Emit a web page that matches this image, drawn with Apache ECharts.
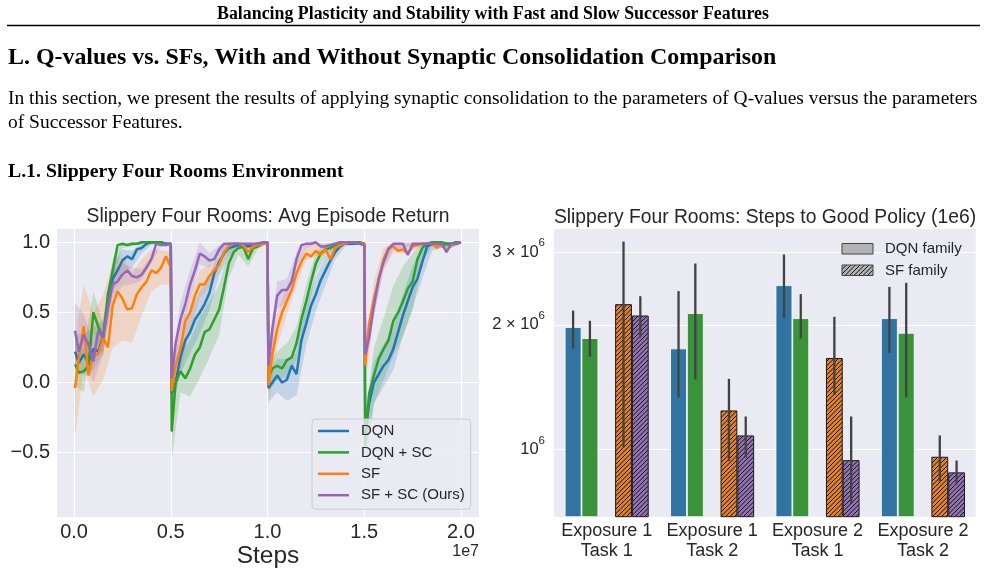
<!DOCTYPE html>
<html>
<head>
<meta charset="utf-8">
<title>Slippery Four Rooms</title>
<script src="https://cdn.jsdelivr.net/npm/echarts@6.0.0/dist/echarts.min.js"></script>
<style>
  html, body { margin: 0; padding: 0; background: #fff; }
  #chart { width: 985px; height: 588px; }
</style>
</head>
<body>
<div id="chart"></div>
<script>
// ---- left panel: avg episode return, x in units of 1e7 steps ----
var steps = [
  0.005, 0.025, 0.05, 0.075, 0.1, 0.125, 0.15, 0.175, 0.2, 0.225, 0.25, 0.275, 0.3, 0.325, 0.35, 0.375, 0.4, 0.425, 0.45, 0.475, 0.5,
  0.505, 0.525, 0.55, 0.575, 0.6, 0.625, 0.65, 0.675, 0.7, 0.725, 0.75, 0.775, 0.8, 0.825, 0.85, 0.875, 0.9, 0.925, 0.95, 0.975, 1.0,
  1.005, 1.025, 1.05, 1.075, 1.1, 1.125, 1.15, 1.175, 1.2, 1.225, 1.25, 1.275, 1.3, 1.325, 1.35, 1.375, 1.4, 1.425, 1.45, 1.475, 1.5,
  1.505, 1.525, 1.55, 1.575, 1.6, 1.625, 1.65, 1.675, 1.7, 1.725, 1.75, 1.775, 1.8, 1.825, 1.85, 1.875, 1.9, 1.925, 1.95, 1.975, 2.0
];
var dqn = [
  0.22, 0.14, 0.2, 0.14, 0.24, 0.22, 0.33, 0.55, 0.74, 0.8, 0.87, 0.9, 0.88, 0.95, 0.96, 0.99, 1.0, 1.0, 1.0, 0.99, 0.99,
  -0.08, 0.0, 0.18, 0.3, 0.36, 0.45, 0.5, 0.56, 0.64, 0.78, 0.86, 0.92, 0.96, 0.97, 0.98, 0.98, 0.97, 0.98, 0.99, 0.99, 1.0,
  -0.04, 0.0, 0.05, 0.0, 0.02, 0.12, 0.06, 0.3, 0.42, 0.55, 0.63, 0.73, 0.8, 0.87, 0.93, 0.97, 0.99, 0.99, 0.99, 0.99, 0.99,
  -0.35, -0.15, 0.0, 0.06, 0.12, 0.16, 0.24, 0.36, 0.48, 0.58, 0.68, 0.74, 0.86, 0.97, 0.99, 0.99, 0.98, 0.99, 0.99, 1.0, 1.0
];
var dqnSC = [
  0.13, 0.07, 0.08, 0.12, 0.5, 0.4, 0.31, 0.63, 0.8, 0.98, 0.99, 0.98, 0.99, 0.99, 1.0, 1.0, 1.0, 1.0, 1.0, 0.98, 0.99,
  -0.35, 0.0, 0.08, 0.03, 0.1, 0.2, 0.25, 0.36, 0.38, 0.45, 0.52, 0.68, 0.85, 0.93, 0.96, 0.97, 0.88, 0.96, 0.97, 0.99, 1.0,
  0.03, 0.1, 0.12, 0.1, 0.16, 0.18, 0.28, 0.45, 0.58, 0.72, 0.85, 0.92, 0.95, 0.96, 0.98, 0.99, 1.0, 1.0, 1.0, 1.0, 0.99,
  -0.45, -0.08, 0.05, 0.17, 0.24, 0.3, 0.44, 0.5, 0.58, 0.67, 0.72, 0.88, 0.96, 0.99, 1.0, 1.0, 1.0, 0.99, 0.98, 1.0, 1.0
];
var sf = [
  -0.04, 0.18, 0.4, 0.05, 0.2, 0.2, 0.32, 0.25, 0.55, 0.65, 0.6, 0.52, 0.53, 0.63, 0.68, 0.72, 0.8, 0.78, 0.82, 0.9, 0.82,
  -0.06, 0.12, 0.24, 0.44, 0.5, 0.62, 0.7, 0.7, 0.76, 0.8, 0.84, 0.93, 0.97, 0.99, 0.99, 0.98, 0.93, 0.97, 0.98, 0.99, 1.0,
  -0.02, 0.2, 0.38, 0.5, 0.58, 0.66, 0.78, 0.86, 0.92, 0.9, 0.94, 0.91, 0.95, 0.88, 0.96, 0.98, 0.99, 1.0, 1.0, 0.99, 0.99,
  0.12, 0.42, 0.6, 0.74, 0.88, 0.96, 0.97, 0.94, 0.95, 0.92, 0.97, 0.98, 0.99, 0.99, 0.99, 0.96, 0.99, 0.94, 0.98, 0.99, 1.0
];
var sfSC = [
  0.37, 0.22, 0.34, 0.27, 0.15, 0.37, 0.32, 0.53, 0.7, 0.72, 0.77, 0.8, 0.76, 0.75, 0.77, 0.82, 0.88, 0.99, 0.98, 0.98, 0.99,
  0.03, 0.28, 0.45, 0.56, 0.7, 0.8, 0.92, 0.9, 0.87, 0.88, 0.95, 0.99, 0.99, 0.99, 0.99, 0.99, 0.99, 0.99, 0.99, 1.0, 1.0,
  0.12, 0.38, 0.62, 0.66, 0.66, 0.72, 0.88, 0.98, 0.99, 0.99, 1.0, 0.97, 0.97, 0.98, 0.99, 1.0, 1.0, 1.0, 1.0, 0.99, 0.98,
  0.2, 0.32, 0.55, 0.74, 0.86, 0.95, 0.99, 0.99, 0.99, 0.91, 0.99, 0.99, 0.99, 0.99, 0.99, 0.99, 0.99, 0.93, 0.99, 0.99, 1.0
];

// half width of the shaded bands, read at every other step (11 per exposure block)
var dqnBand = [
  0.12, 0.15, 0.15, 0.12, 0.1, 0.08, 0.06, 0.04, 0.02, 0.01, 0.01,
  0.12, 0.12, 0.15, 0.15, 0.12, 0.1, 0.06, 0.03, 0.02, 0.01, 0.01,
  0.1, 0.12, 0.15, 0.15, 0.15, 0.12, 0.1, 0.05, 0.02, 0.01, 0.01,
  0.15, 0.15, 0.15, 0.15, 0.15, 0.15, 0.12, 0.05, 0.02, 0.02, 0.01
];
var dqnSCBand = [
  0.15, 0.15, 0.15, 0.12, 0.08, 0.03, 0.02, 0.01, 0.01, 0.01, 0.01,
  0.2, 0.15, 0.2, 0.22, 0.2, 0.18, 0.1, 0.05, 0.05, 0.02, 0.01,
  0.1, 0.1, 0.12, 0.12, 0.12, 0.08, 0.04, 0.02, 0.01, 0.01, 0.01,
  0.2, 0.2, 0.22, 0.25, 0.25, 0.2, 0.1, 0.03, 0.02, 0.02, 0.01
];
var sfBand = [
  0.35, 0.3, 0.3, 0.3, 0.3, 0.3, 0.25, 0.2, 0.15, 0.12, 0.12,
  0.15, 0.15, 0.12, 0.1, 0.08, 0.05, 0.03, 0.02, 0.03, 0.02, 0.01,
  0.15, 0.12, 0.1, 0.08, 0.05, 0.04, 0.03, 0.02, 0.01, 0.01, 0.01,
  0.15, 0.12, 0.08, 0.04, 0.03, 0.03, 0.02, 0.02, 0.03, 0.02, 0.01
];
var sfSCBand = [
  0.2, 0.15, 0.15, 0.12, 0.1, 0.08, 0.06, 0.04, 0.02, 0.01, 0.01,
  0.12, 0.12, 0.1, 0.08, 0.05, 0.03, 0.02, 0.01, 0.01, 0.01, 0.01,
  0.12, 0.1, 0.08, 0.05, 0.03, 0.02, 0.02, 0.01, 0.01, 0.01, 0.01,
  0.1, 0.08, 0.05, 0.04, 0.03, 0.02, 0.02, 0.02, 0.03, 0.02, 0.01
];
var returnTicks = [1.0, 0.5, 0.0, -0.5];
var stepTicks = [0, 0.5, 1.0, 1.5, 2.0];

// ---- right panel: steps to good policy (log axis) ----
var tasks = ['Exposure 1\nTask 1', 'Exposure 1\nTask 2', 'Exposure 2\nTask 1', 'Exposure 2\nTask 2'];
var stepsDQN = [1.975e6, 1.754e6, 2.494e6, 2.076e6];
var stepsDQNSC = [1.858e6, 2.135e6, 2.076e6, 1.913e6];
var stepsSF = [2.244e6, 1.242e6, 1.663e6, 0.960e6];
var stepsSFSC = [2.107e6, 1.081e6, 0.942e6, 0.880e6];
var ciDQN = [[1.754e6, 2.166e6], [1.335e6, 2.413e6], [2.076e6, 2.958e6], [1.712e6, 2.471e6]];
var ciDQNSC = [[1.675e6, 2.046e6], [1.476e6, 2.814e6], [1.854e6, 2.373e6], [1.335e6, 2.527e6]];
var ciSF = [[1.011e6, 3.18e6], [0.937e6, 1.481e6], [1.353e6, 2.092e6], [0.835e6, 1.081e6]];
var ciSFSC = [[1.865e6, 2.346e6], [0.955e6, 1.201e6], [0.738e6, 1.201e6], [0.823e6, 0.940e6]];
var policyTicks = [1e6, 2e6, 3e6];
var policyTickBase = ['10', '2 × 10', '3 × 10'];

var SANS = '"Liberation Sans", Arial, sans-serif';
var SERIF = '"Liberation Serif", "Times New Roman", serif';
var TEXT = '#262626';
var BG = '#eaeaf2';
var BLUE = '#1f77b4', GREEN = '#2ca02c', ORANGE = '#ff7f0e', PURPLE = '#9467bd';
var BAR_W = 16.8;

var chart = echarts.init(document.getElementById('chart'));

// font size that makes a line of paper text as wide as in the scan
var measure = document.createElement('canvas').getContext('2d');
function fitSize(text, weight, family, width) {
  measure.font = weight + ' 100px ' + family;
  return 100 * width / measure.measureText(text).width;
}

function pairs(xs, ys) {
  return xs.map(function (x, i) { return [x, ys[i]]; });
}

function bandPoints(vals, half) {
  var out = [];
  for (var s = 0; s < 4; s++) {
    for (var j = 0; j <= 10; j++) {
      var i = s * 21 + j * 2;
      var w = half[s * 11 + j];
      out.push([steps[i], vals[i] - w, Math.min(1, vals[i] + w)]);
    }
  }
  return out;
}

function bandSeries(name, color, vals, half) {
  var pts = bandPoints(vals, half);
  return {
    name: name + ' band', type: 'custom', xAxisIndex: 0, yAxisIndex: 0, z: 2, silent: true,
    data: pts, encode: { x: 0, y: [1, 2] },
    renderItem: function (params, api) {
      if (params.dataIndex !== 0) return;
      var top = pts.map(function (p) { return api.coord([p[0], p[2]]); });
      var bottom = pts.map(function (p) { return api.coord([p[0], p[1]]); }).reverse();
      return { type: 'polygon', shape: { points: top.concat(bottom) }, style: { fill: color, opacity: 0.2 } };
    }
  };
}

function lineSeries(name, color, vals) {
  return {
    name: name, type: 'line', xAxisIndex: 0, yAxisIndex: 0, z: 3,
    data: pairs(steps, vals), symbol: 'none', showSymbol: false,
    lineStyle: { color: color, width: 2.5 }, itemStyle: { color: color }
  };
}

function hatchFill(bg) {
  var c = document.createElement('canvas');
  c.width = 9; c.height = 9;
  var g = c.getContext('2d');
  g.fillStyle = bg;
  g.fillRect(0, 0, 9, 9);
  g.strokeStyle = '#111';
  g.lineWidth = 1;
  [0, 4.5, 9, 13.5, 18].forEach(function (k) {
    g.beginPath(); g.moveTo(k + 2, -2); g.lineTo(-2, k + 2); g.stroke();
  });
  return { image: c, repeat: 'repeat' };
}

function barSeries(name, vals, color, hatched) {
  return {
    name: name, type: 'bar', xAxisIndex: 1, yAxisIndex: 1, z: 2, silent: true,
    barWidth: BAR_W, barGap: '0%', data: vals,
    itemStyle: hatched
      ? { color: hatchFill(color), borderColor: '#1a1a1a', borderWidth: 1 }
      : { color: color, borderColor: '#ffffff', borderWidth: 0.8 }
  };
}

var errRows = [];
[[ciDQN, -2], [ciDQNSC, -1], [ciSF, 1], [ciSFSC, 2]].forEach(function (e) {
  e[0].forEach(function (ci, k) { errRows.push([k, ci[0], ci[1], e[1]]); });
});

var labelFont = { fontFamily: SANS, color: TEXT };

var option = {
  animation: false,
  grid: [
    { left: 57, top: 229, width: 422, height: 288, show: true, backgroundColor: BG, borderWidth: 0 },
    { left: 554, top: 229, width: 421.7, height: 287.7, show: true, backgroundColor: BG, borderWidth: 0 }
  ],
  xAxis: [
    { type: 'value', gridIndex: 0, min: -0.088, max: 2.093,
      axisLine: { show: false }, axisTick: { show: false }, axisLabel: { show: false }, splitLine: { show: false } },
    { type: 'category', gridIndex: 1, data: tasks,
      axisLine: { show: false }, axisTick: { show: false }, splitLine: { show: false },
      axisLabel: { interval: 0, fontSize: 18, lineHeight: 19.5, margin: 5, fontFamily: SANS, color: TEXT } }
  ],
  yAxis: [
    { type: 'value', gridIndex: 0, min: -0.959, max: 1.095,
      axisLine: { show: false }, axisTick: { show: false }, axisLabel: { show: false }, splitLine: { show: false } },
    { type: 'log', logBase: 10, gridIndex: 1, min: 0.6876e6, max: 3.41e6,
      axisLine: { show: false }, axisTick: { show: false }, axisLabel: { show: false }, splitLine: { show: false } }
  ],
  legend: {
    data: ['DQN', 'DQN + SC', 'SF', 'SF + SC (Ours)'],
    orient: 'vertical', left: 312, top: 419, selectedMode: false, z: 10,
    icon: 'rect', itemWidth: 31, itemHeight: 2.5, itemGap: 5.4,
    padding: [4, 6, 6, 6],
    backgroundColor: 'rgba(234,234,242,0.8)', borderColor: '#cccccc', borderWidth: 1, borderRadius: 4,
    textStyle: { fontSize: 15, lineHeight: 16, fontFamily: SANS, color: TEXT, padding: [0, 0, 0, 7] }
  },
  series: [
    // left grid lines + tick labels
    { name: 'leftGrid', type: 'line', xAxisIndex: 0, yAxisIndex: 0, data: [], z: 1, clip: false, silent: true,
      markLine: {
        z: 1, silent: true, symbol: ['none', 'none'], animation: false,
        lineStyle: { color: '#ffffff', width: 1.2, type: 'solid' },
        data: returnTicks.map(function (v) {
          return { yAxis: v, label: Object.assign({ position: 'start', distance: 7, fontSize: 20,
            formatter: (v < 0 ? '\u2212' : '') + Math.abs(v).toFixed(1) }, labelFont) };
        }).concat(stepTicks.map(function (v) {
          return { xAxis: v, label: Object.assign({ position: 'start', distance: 5, fontSize: 20,
            formatter: v.toFixed(1) }, labelFont) };
        }))
      } },
    bandSeries('DQN', BLUE, dqn, dqnBand),
    bandSeries('DQN + SC', GREEN, dqnSC, dqnSCBand),
    bandSeries('SF', ORANGE, sf, sfBand),
    bandSeries('SF + SC (Ours)', PURPLE, sfSC, sfSCBand),
    lineSeries('DQN', BLUE, dqn),
    lineSeries('DQN + SC', GREEN, dqnSC),
    lineSeries('SF', ORANGE, sf),
    lineSeries('SF + SC (Ours)', PURPLE, sfSC),

    // right grid lines + log tick labels
    { name: 'rightGrid', type: 'line', xAxisIndex: 1, yAxisIndex: 1, data: [], z: 1, clip: false, silent: true,
      markLine: {
        z: 1, silent: true, symbol: ['none', 'none'], animation: false,
        lineStyle: { color: '#ffffff', width: 1.2, type: 'solid' },
        data: policyTicks.map(function (v, i) {
          return { yAxis: v, label: {
            position: 'start', distance: 9,
            formatter: '{b|' + policyTickBase[i] + '}{s|6}',
            rich: {
              b: { fontSize: 16.5, lineHeight: 30, fontFamily: SANS, color: TEXT },
              s: { fontSize: 11.5, lineHeight: 12, verticalAlign: 'top', fontFamily: SANS, color: TEXT }
            }
          } };
        })
      } },
    barSeries('DQN', stepsDQN, '#3274a1', false),
    barSeries('DQN + SC', stepsDQNSC, '#3a923a', false),
    { name: 'gap', type: 'bar', xAxisIndex: 1, yAxisIndex: 1, barWidth: BAR_W, barGap: '0%', data: [] },
    barSeries('SF', stepsSF, '#e1812c', true),
    barSeries('SF + SC (Ours)', stepsSFSC, '#9372b2', true),
    { name: 'ci', type: 'custom', xAxisIndex: 1, yAxisIndex: 1, z: 3, silent: true,
      data: errRows, encode: { x: 0, y: [1, 2] },
      renderItem: function (params, api) {
        var lo = api.coord([api.value(0), api.value(1)]);
        var hi = api.coord([api.value(0), api.value(2)]);
        var x = lo[0] + api.value(3) * BAR_W;
        return { type: 'line', shape: { x1: x, y1: lo[1], x2: x, y2: hi[1] },
          style: { stroke: '#424242', lineWidth: 2.3 } };
      } }
  ],
  graphic: []
};

var head = 'Balancing Plasticity and Stability with Fast and Slow Successor Features';
var section = 'L. Q-values vs. SFs, With and Without Synaptic Consolidation Comparison';
var para1 = 'In this section, we present the results of applying synaptic consolidation to the parameters of Q-values versus the parameters';
var para2 = 'of Successor Features.';
var sub = 'L.1. Slippery Four Rooms Environment';
var paraSize = fitSize(para1, 'normal', SERIF, 970);

function txt(x, y, text, size, weight, family, align, color) {
  return { type: 'text', x: x, y: y, silent: true, z: 20,
    style: { text: text, fontSize: size, fontWeight: weight, fontFamily: family,
      fill: color || '#000', textAlign: align, textVerticalAlign: 'middle' } };
}

option.graphic = [
  txt(493, 14, head, fitSize(head, 'bold', SERIF, 552), 'bold', SERIF, 'center'),
  { type: 'line', silent: true, shape: { x1: 7, y1: 25.5, x2: 980, y2: 25.5 }, style: { stroke: '#000', lineWidth: 1.6 } },
  txt(8, 58, section, fitSize(section, 'bold', SERIF, 769), 'bold', SERIF, 'left'),
  txt(8, 99, para1, paraSize, 'normal', SERIF, 'left'),
  txt(8, 123, para2, paraSize, 'normal', SERIF, 'left'),
  txt(8, 172, sub, fitSize(sub, 'bold', SERIF, 336), 'bold', SERIF, 'left'),

  txt(268, 217, 'Slippery Four Rooms: Avg Episode Return', 19.3, 'normal', SANS, 'center', TEXT),
  txt(765, 218, 'Slippery Four Rooms: Steps to Good Policy (1e6)', 19.3, 'normal', SANS, 'center', TEXT),
  txt(268, 556, 'Steps', 24.5, 'normal', SANS, 'center', TEXT),
  txt(479, 552, '1e7', 16, 'normal', SANS, 'right', TEXT),

  { type: 'rect', silent: true, z: 20, shape: { x: 842, y: 243.5, width: 31, height: 10.5 },
    style: { fill: '#b3b3b3', stroke: '#444', lineWidth: 1 } },
  txt(885, 249, 'DQN family', 15, 'normal', SANS, 'left', TEXT),
  { type: 'rect', silent: true, z: 20, shape: { x: 842, y: 265, width: 31, height: 10.5 },
    style: { fill: hatchFill('#b3b3b3'), stroke: '#444', lineWidth: 1 } },
  txt(885, 270.5, 'SF family', 15, 'normal', SANS, 'left', TEXT)
];

chart.setOption(option);
</script>
</body>
</html>
